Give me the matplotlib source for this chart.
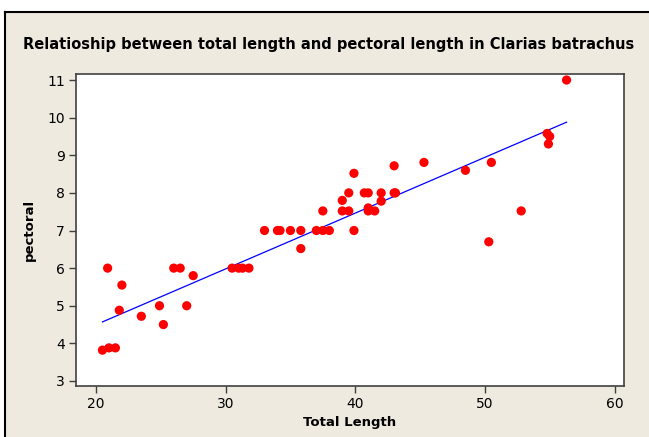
import numpy as np
import matplotlib
matplotlib.use('Agg')
import matplotlib.pyplot as plt
from matplotlib.patches import Rectangle
from matplotlib.lines import Line2D

# total length (cm) and pectoral length
total_length = [20.5, 21.0, 21.5, 20.9, 22.0, 21.8, 23.5, 24.9, 25.2, 26.0, 26.5,
                27.0, 27.5, 30.5, 31.0, 31.3, 31.8, 33.0, 34.0, 34.2, 35.0, 35.8,
                35.8, 37.0, 37.5, 38.0, 37.5, 39.0, 39.0, 39.5, 39.5, 39.9, 39.9,
                40.7, 41.0, 41.0, 41.0, 41.5, 42.0, 42.0, 43.0, 43.0, 43.1, 45.3,
                48.5, 50.5, 50.3, 52.8, 54.8, 55.0, 54.9, 56.3]
pectoral = [3.82, 3.88, 3.88, 6.0, 5.55, 4.88, 4.72, 5.0, 4.5, 6.0, 6.0,
            5.0, 5.8, 6.0, 6.0, 6.0, 6.0, 7.0, 7.0, 7.0, 7.0, 7.0,
            6.52, 7.0, 7.0, 7.0, 7.52, 7.8, 7.52, 7.52, 8.0, 8.52, 7.0,
            8.0, 8.0, 7.6, 7.52, 7.52, 8.0, 7.78, 8.72, 8.0, 8.0, 8.81,
            8.6, 8.81, 6.7, 7.52, 9.58, 9.5, 9.3, 11.0]

# fitted line (as drawn in the original)
fit_intercept = 1.53
fit_slope = 0.1483

x_ticks = [20, 30, 40, 50, 60]
y_ticks = [3, 4, 5, 6, 7, 8, 9, 10, 11]

W, H = 649, 437
fig = plt.figure(figsize=(W / 100, H / 100), dpi=100, facecolor='white')

# beige panel with a black frame on the top and left
bg = '#EEEAE0'
fig.patches.append(Rectangle((5 / W, 0), 1 - 5 / W, (H - 12) / H,
                             transform=fig.transFigure, facecolor=bg,
                             edgecolor='none', zorder=-10))
fig.lines.append(Line2D([5 / W, 1], [(H - 12) / H] * 2, transform=fig.transFigure,
                        color='black', lw=1.5))
fig.lines.append(Line2D([5 / W] * 2, [0, (H - 12) / H], transform=fig.transFigure,
                        color='black', lw=1.5))

ax = fig.add_axes([76 / W, (H - 385.5) / H, (624 - 76) / W, (385.5 - 74) / H])
ax.set_facecolor('white')

ax.scatter(total_length, pectoral, s=44, color='#FF0000', edgecolors='none', zorder=3)

xs = np.array([min(total_length), max(total_length)])
ax.plot(xs, fit_intercept + fit_slope * xs, color='#0000FF', lw=0.9, zorder=2)

ax.set_xlim(18.46, 60.73)
ax.set_ylim(2.88, 11.16)
ax.set_xticks(x_ticks)
ax.set_yticks(y_ticks)
ax.tick_params(direction='out', length=5, width=1, color='#404040',
               labelsize=10, pad=3, top=False, right=False)
for s in ax.spines.values():
    s.set_color('#404040')
    s.set_linewidth(1.2)

ax.set_xlabel('Total Length', fontsize=9.5, fontweight='bold', labelpad=4)
ax.set_ylabel('pectoral', fontsize=9.5, fontweight='bold', labelpad=8)

fig.text(329 / W, 1 - 45 / H,
         'Relatioship between total length and pectoral length in Clarias batrachus',
         ha='center', va='center', fontsize=10.5, fontweight='bold')

fig.savefig('out.png', dpi=100, facecolor=fig.get_facecolor())
